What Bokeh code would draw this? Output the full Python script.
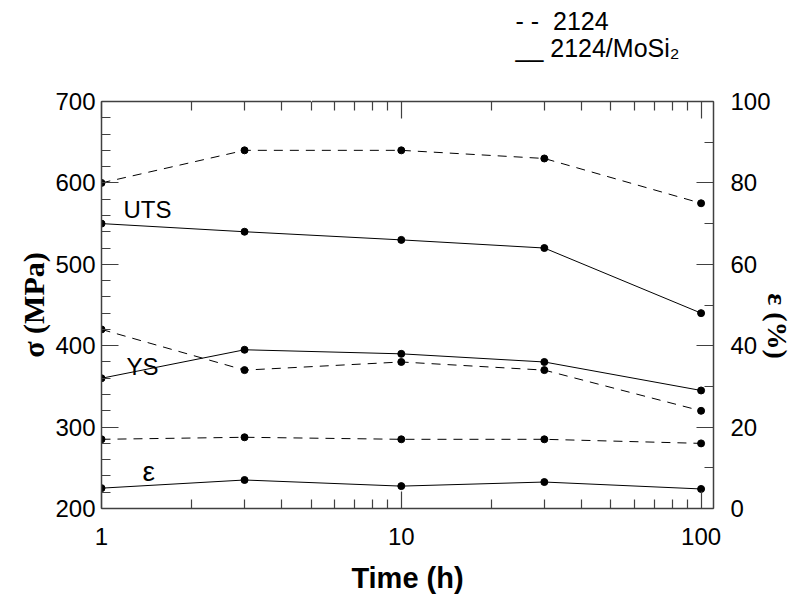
import math
from bokeh.plotting import figure
from bokeh.models import (Range1d, LinearAxis, LogAxis, FixedTicker, SingleIntervalTicker,
                          BasicTickFormatter, Label, Title)
from bokeh.embed import file_html
from bokeh.resources import INLINE

# ---- data ----
time_h = [1, 3, 10, 30, 100]
uts_2124 = [600, 640, 640, 630, 575]
uts_mosi2 = [550, 540, 530, 520, 440]
ys_2124 = [420, 370, 380, 370, 320]
ys_mosi2 = [360, 395, 390, 380, 345]
elong_2124 = [17, 17.5, 17, 17, 16]
elong_mosi2 = [5, 7, 5.5, 6.5, 4.8]

x_major = [1, 10, 100]
x_minor = [2, 3, 4, 5, 6, 7, 8, 9, 20, 30, 40, 50, 60, 70, 80, 90]

# ---- layout ----
W, H = 795, 597
FL, FR, FT, FB = 101, 713, 101, 508
X_MIN, X_MAX = 1, 110
Y_MIN, Y_MAX = 200, 700
NBSP = "\u00a0"


def dx(px):
    return 10 ** (math.log10(X_MIN) + (math.log10(X_MAX) - math.log10(X_MIN)) * (px - FL) / (FR - FL))


def dy(py):
    return Y_MAX - (py - FT) * (Y_MAX - Y_MIN) / (FB - FT)


FONT = "Liberation Sans"
SERIF = "Liberation Serif"
AX = "#404040"
TS = "24px"
LS = "25px"

p = figure(width=W, height=H, x_axis_type="log",
           x_range=Range1d(X_MIN, X_MAX), y_range=Range1d(Y_MIN, Y_MAX),
           output_backend="svg", toolbar_location=None,
           min_border_left=FL, min_border_right=W - FR,
           min_border_top=FT, min_border_bottom=H - FB)
p.title_location = None
p.extra_y_ranges = {"elong": Range1d(0, 100)}
p.xgrid.grid_line_color = None
p.ygrid.grid_line_color = None
p.outline_line_color = None
p.background_fill_color = "white"
p.border_fill_color = "white"


def style(ax, standoff=6):
    ax.axis_line_color = AX
    ax.axis_line_width = 1.5
    ax.major_tick_line_color = AX
    ax.minor_tick_line_color = AX
    ax.major_tick_line_width = 1.2
    ax.minor_tick_line_width = 1.2
    ax.major_tick_in = 17
    ax.major_tick_out = 0
    ax.minor_tick_in = 9
    ax.minor_tick_out = 0
    ax.major_label_standoff = standoff
    ax.major_label_text_font = FONT
    ax.major_label_text_font_size = TS
    ax.major_label_text_color = "black"
    ax.major_label_text_font_style = "normal"
    ax.axis_label_text_color = "black"
    ax.axis_label_text_font_style = "bold"


# bottom axis
bx = p.xaxis[0]
bx.ticker = FixedTicker(ticks=x_major, minor_ticks=x_minor)
bx.formatter = BasicTickFormatter()
style(bx, standoff=19)
bx.axis_label = "Time (h)"
bx.axis_label_text_font = FONT
bx.axis_label_text_font_size = "29px"
bx.axis_label_standoff = 14

# left axis
ly = p.yaxis[0]
ly.ticker = SingleIntervalTicker(interval=100, num_minor_ticks=5)
style(ly, standoff=6)
ly.axis_label = "σ (MPa)"
ly.axis_label_text_font = SERIF
ly.axis_label_text_font_size = "30px"
ly.axis_label_standoff = 2

# top axis (ticks only)
tx = LogAxis(ticker=FixedTicker(ticks=x_major, minor_ticks=x_minor),
             major_label_overrides={1: "", 10: "", 100: ""})
style(tx, standoff=0)
tx.major_label_text_font_size = "0px"
p.add_layout(tx, "above")

# blank spacer (white, on white border) between the top axis and the legend rows
spacer = LogAxis(ticker=FixedTicker(ticks=[5], minor_ticks=[]),
                 axis_line_color=None, major_tick_line_color="white",
                 major_tick_line_width=1, major_tick_in=0, major_tick_out=40,
                 minor_tick_in=0, minor_tick_out=0, major_label_standoff=0,
                 major_label_overrides={5: ""}, major_label_text_font_size="0px")
p.add_layout(spacer, "above")

# right axis (elongation)
ry = LinearAxis(y_range_name="elong",
                ticker=SingleIntervalTicker(interval=20, num_minor_ticks=2))
style(ry, standoff=17)
ry.axis_label = NBSP * 6 + "ε (%)"
ry.axis_label_text_font = SERIF
ry.axis_label_text_font_size = "28px"
ry.axis_label_standoff = -12
p.add_layout(ry, "right")

# legend text rows above the plot (stacked outward from the frame)
row2 = Title(text="__ 2124/MoSi₂", align="left", offset=414,
             text_font=FONT, text_font_size=LS, text_font_style="normal",
             text_color="black", standoff=0)
row1 = Title(text="- -" + NBSP + " 2124", align="left", offset=414,
             text_font=FONT, text_font_size=LS, text_font_style="normal",
             text_color="black", standoff=-6)
p.add_layout(row2, "above")
p.add_layout(row1, "above")

# data
DASH = "9 7"
series = [
    (uts_2124, DASH, "default"),
    (uts_mosi2, "solid", "default"),
    (ys_2124, DASH, "default"),
    (ys_mosi2, "solid", "default"),
    (elong_2124, DASH, "elong"),
    (elong_mosi2, "solid", "elong"),
]
for ys, dash, rng in series:
    p.line(time_h, ys, line_color="black", line_width=1, line_dash=dash, y_range_name=rng)
    p.scatter(time_h, ys, size=7, color="black", y_range_name=rng)


def lab(px, py, text, size=TS, font=FONT, style_="normal", align="left",
        baseline="alphabetic"):
    p.add_layout(Label(x=dx(px), y=dy(py), text=text, text_font=font,
                       text_font_size=size, text_font_style=style_,
                       text_align=align, text_baseline=baseline,
                       text_color="black"))


# annotations inside the plot
lab(123, 209, "UTS")
lab(126, 366, "YS")
lab(142, 471, "ε", size="28px")

open("out.html", "w").write(file_html(p, INLINE))
